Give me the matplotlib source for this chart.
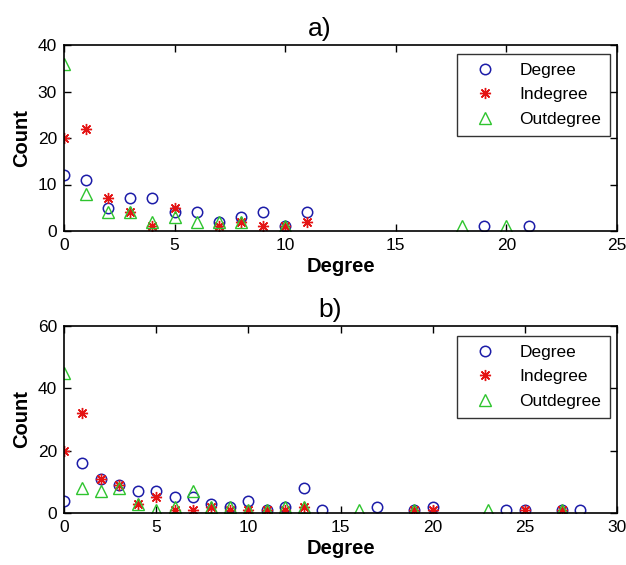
import matplotlib
matplotlib.use("Agg")
import matplotlib.pyplot as plt

plt.rcParams['font.family'] = ['Liberation Sans', 'DejaVu Sans']

# ---- panel a) data ----
a_deg_x = [0, 1, 2, 3, 4, 5, 6, 7, 8, 9, 10, 11, 19, 21]
a_deg_y = [12, 11, 5, 7, 7, 4, 4, 2, 3, 4, 1, 4, 1, 1]
a_in_x = [0, 1, 2, 3, 4, 5, 7, 8, 9, 10, 11]
a_in_y = [20, 22, 7, 4, 1, 5, 1, 2, 1, 1, 2]
a_out_x = [0, 1, 2, 3, 4, 5, 6, 7, 8, 10, 18, 20]
a_out_y = [36, 8, 4, 4, 2, 3, 2, 2, 2, 1, 1, 1]

# ---- panel b) data ----
b_deg_x = [0, 1, 2, 3, 4, 5, 6, 7, 8, 9, 10, 11, 12, 13, 14, 17, 19, 20, 24, 25, 27, 28]
b_deg_y = [4, 16, 11, 9, 7, 7, 5, 5, 3, 2, 4, 1, 2, 8, 1, 2, 1, 2, 1, 1, 1, 1]
b_in_x = [0, 1, 2, 3, 4, 5, 6, 7, 8, 9, 10, 11, 12, 13, 19, 20, 25, 27]
b_in_y = [20, 32, 11, 9, 3, 5, 1, 1, 2, 1, 1, 1, 1, 2, 1, 1, 1, 1]
b_out_x = [0, 1, 2, 3, 4, 5, 6, 7, 8, 9, 10, 11, 12, 13, 16, 19, 23, 27]
b_out_y = [45, 8, 7, 8, 3, 1, 2, 7, 2, 2, 1, 1, 2, 2, 1, 1, 1, 1]

series_labels = ['Degree', 'Indegree', 'Outdegree']

a_xticks = [0, 5, 10, 15, 20, 25]
a_yticks = [0, 10, 20, 30, 40]
b_xticks = [0, 5, 10, 15, 20, 25, 30]
b_yticks = [0, 20, 40, 60]

BLUE = '#1c1ca8'
RED = '#e41414'
GREEN = '#2ec42e'
ASTER = (8, 2, 0)

W, H = 626, 565
fig = plt.figure(figsize=(W / 100, H / 100), dpi=100)


def rect(left, top, right, bottom):
    return [left / W, (H - bottom) / H, (right - left) / W, (bottom - top) / H]


def panel(ax, dx, dy, ix, iy, ox, oy, xt, yt, title, title_x, leg_top):
    ax.plot(dx, dy, linestyle='none', marker='o', markersize=7.5,
            markerfacecolor='none', markeredgecolor=BLUE, markeredgewidth=1.1,
            label=series_labels[0])
    ax.plot(ix, iy, linestyle='none', marker=ASTER, markersize=8,
            markeredgecolor=RED, color=RED, markeredgewidth=1.0,
            label=series_labels[1])
    ax.plot(ox, oy, linestyle='none', marker='^', markersize=8.5,
            markerfacecolor='none', markeredgecolor=GREEN, markeredgewidth=1.0,
            label=series_labels[2])
    ax.set_xlim(xt[0], xt[-1])
    ax.set_ylim(yt[0], yt[-1])
    ax.set_xticks(xt)
    ax.set_yticks(yt)
    ax.tick_params(direction='in', top=True, right=True, length=5, width=1.0,
                   labelsize=12.5, pad=5)
    for s in ax.spines.values():
        s.set_linewidth(1.2)
    ax.set_xlabel('Degree', fontsize=14.5, fontweight='bold', labelpad=3)
    ax.set_ylabel('Count', fontsize=14.5, fontweight='bold', labelpad=5)
    ax.text(title_x, 1.02, title, transform=ax.transAxes, ha='center', va='bottom',
            fontsize=19)
    leg = ax.legend(loc='upper right', bbox_to_anchor=(0.987, leg_top),
                    fontsize=12.5, frameon=True, fancybox=False, edgecolor='black',
                    borderaxespad=0, handlelength=2.2, handletextpad=0.9,
                    borderpad=0.5, labelspacing=0.55, numpoints=1)
    leg.get_frame().set_linewidth(1.0)


ax1 = fig.add_axes(rect(64, 45, 617, 231))
panel(ax1, a_deg_x, a_deg_y, a_in_x, a_in_y, a_out_x, a_out_y,
      a_xticks, a_yticks, 'a)', 0.463, 0.952)

ax2 = fig.add_axes(rect(64, 326, 617, 513))
panel(ax2, b_deg_x, b_deg_y, b_in_x, b_in_y, b_out_x, b_out_y,
      b_xticks, b_yticks, 'b)', 0.481, 0.947)

fig.savefig('out.png', dpi=100)
